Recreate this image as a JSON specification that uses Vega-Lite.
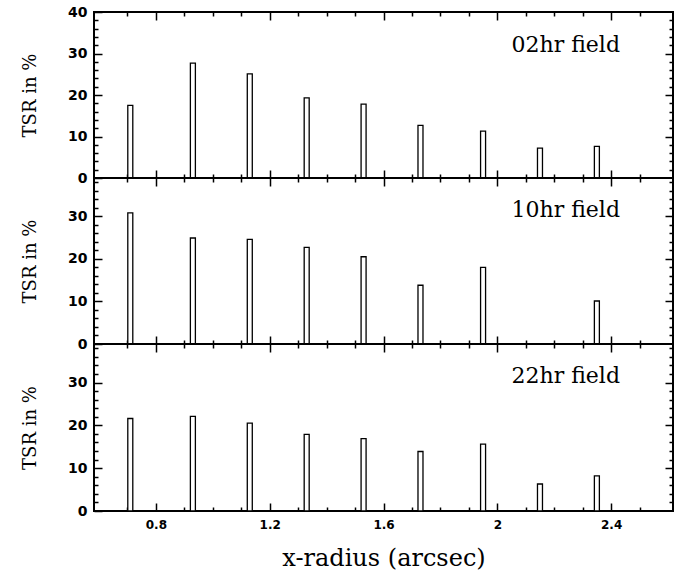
{
  "$schema": "https://vega.github.io/schema/vega-lite/v6.json",
  "background": "white",
  "padding": {"left": 20, "top": 4, "right": 0, "bottom": 5},
  "datasets": {
    "d02": [
      {"r": 0.71, "tsr": 17.5}, {"r": 0.93, "tsr": 27.7}, {"r": 1.13, "tsr": 25.1},
      {"r": 1.33, "tsr": 19.3}, {"r": 1.53, "tsr": 17.8}, {"r": 1.73, "tsr": 12.7},
      {"r": 1.95, "tsr": 11.3}, {"r": 2.15, "tsr": 7.2}, {"r": 2.35, "tsr": 7.6}
    ],
    "d10": [
      {"r": 0.71, "tsr": 30.8}, {"r": 0.93, "tsr": 24.9}, {"r": 1.13, "tsr": 24.6},
      {"r": 1.33, "tsr": 22.7}, {"r": 1.53, "tsr": 20.5}, {"r": 1.73, "tsr": 13.8},
      {"r": 1.95, "tsr": 18.0}, {"r": 2.35, "tsr": 10.1}
    ],
    "d22": [
      {"r": 0.71, "tsr": 21.6}, {"r": 0.93, "tsr": 22.1}, {"r": 1.13, "tsr": 20.5},
      {"r": 1.33, "tsr": 17.9}, {"r": 1.53, "tsr": 16.9}, {"r": 1.73, "tsr": 13.9},
      {"r": 1.95, "tsr": 15.6}, {"r": 2.15, "tsr": 6.3}, {"r": 2.35, "tsr": 8.2}
    ]
  },
  "spacing": 0,
  "bounds": "flush",
  "config": {
    "view": {"stroke": "black", "strokeWidth": 2},
    "axis": {
      "domain": false, "grid": false, "tickColor": "black", "tickWidth": 1.5,
      "labelFont": "DejaVu Sans", "labelFontWeight": "bold", "labelColor": "black",
      "titleFont": "DejaVu Serif", "titleFontWeight": "normal", "titleColor": "black",
      "labelOverlap": false, "labelFlush": false
    }
  },
  "vconcat": [
    {
      "width": 579, "height": 166,
      "data": {"name": "d02"},
      "title": {"text": "02hr field", "anchor": "end", "orient": "top", "frame": "group", "baseline": "alphabetic", "offset": -69, "dx": -53, "font": "DejaVu Serif", "fontSize": 22, "fontWeight": "normal", "color": "black"},
      "layer": [
        {
          "mark": {"type": "bar", "orient": "vertical", "width": 5, "fill": "white", "stroke": "black", "strokeWidth": 1.3},
          "encoding": {
            "x": {"field": "r", "type": "quantitative", "scale": {"domain": [0.6, 2.6], "nice": false, "zero": false},
              "axis": {"orient": "bottom", "values": [0.7,0.8,0.9,1.0,1.1,1.2,1.3,1.4,1.5,1.6,1.7,1.8,1.9,2.0,2.1,2.2,2.3,2.4,2.5], "labels": false, "title": null,
                "tickSize": {"condition": {"test": "round(datum.value*10) % 4 == 0", "value": -8}, "value": -4}}},
            "y": {"field": "tsr", "type": "quantitative", "scale": {"domain": [0, 40], "nice": false},
              "axis": {"orient": "left", "values": [0,2,4,6,8,10,12,14,16,18,20,22,24,26,28,30,32,34,36,38,40], "title": "TSR in %", "titleFontSize": 18, "titlePadding": 28,
                "labelFontSize": 14, "labelPadding": 15, "labelExpr": "datum.value % 10 == 0 ? '' + datum.value : ''",
                "tickSize": {"condition": {"test": "datum.value % 10 == 0", "value": -8}, "value": -4}}}
          }
        },
        {
          "mark": {"type": "bar", "orient": "vertical", "width": 5, "opacity": 0},
          "encoding": {
            "x": {"field": "r", "type": "quantitative", "scale": {"domain": [0.6, 2.6], "nice": false, "zero": false},
              "axis": {"orient": "top", "values": [0.7,0.8,0.9,1.0,1.1,1.2,1.3,1.4,1.5,1.6,1.7,1.8,1.9,2.0,2.1,2.2,2.3,2.4,2.5], "labels": false, "title": null,
                "tickSize": {"condition": {"test": "round(datum.value*10) % 4 == 0", "value": -8}, "value": -4}}},
            "y": {"field": "tsr", "type": "quantitative", "scale": {"domain": [0, 40], "nice": false},
              "axis": {"orient": "right", "values": [2,4,6,8,10,12,14,16,18,20,22,24,26,28,30,32,34,36,38], "labels": false, "title": null,
                "tickSize": {"condition": {"test": "datum.value % 10 == 0", "value": -8}, "value": -4}}}
          }
        }
      ],
      "resolve": {"axis": {"x": "independent", "y": "independent"}}
    },
    {
      "width": 579, "height": 166,
      "data": {"name": "d10"},
      "title": {"text": "10hr field", "anchor": "end", "orient": "top", "frame": "group", "baseline": "alphabetic", "offset": -64, "dx": -53, "font": "DejaVu Serif", "fontSize": 22, "fontWeight": "normal", "color": "black"},
      "layer": [
        {
          "mark": {"type": "bar", "orient": "vertical", "width": 5, "fill": "white", "stroke": "black", "strokeWidth": 1.3},
          "encoding": {
            "x": {"field": "r", "type": "quantitative", "scale": {"domain": [0.6, 2.6], "nice": false, "zero": false},
              "axis": {"orient": "bottom", "values": [0.7,0.8,0.9,1.0,1.1,1.2,1.3,1.4,1.5,1.6,1.7,1.8,1.9,2.0,2.1,2.2,2.3,2.4,2.5], "labels": false, "title": null,
                "tickSize": {"condition": {"test": "round(datum.value*10) % 4 == 0", "value": -8}, "value": -4}}},
            "y": {"field": "tsr", "type": "quantitative", "scale": {"domain": [0, 39], "nice": false},
              "axis": {"orient": "left", "values": [0,2,4,6,8,10,12,14,16,18,20,22,24,26,28,30,32,34,36,38], "title": "TSR in %", "titleFontSize": 18, "titlePadding": 28,
                "labelFontSize": 14, "labelPadding": 15, "labelExpr": "datum.value % 10 == 0 ? '' + datum.value : ''",
                "tickSize": {"condition": {"test": "datum.value % 10 == 0", "value": -8}, "value": -4}}}
          }
        },
        {
          "mark": {"type": "bar", "orient": "vertical", "width": 5, "opacity": 0},
          "encoding": {
            "x": {"field": "r", "type": "quantitative", "scale": {"domain": [0.6, 2.6], "nice": false, "zero": false},
              "axis": {"orient": "top", "values": [0.7,0.8,0.9,1.0,1.1,1.2,1.3,1.4,1.5,1.6,1.7,1.8,1.9,2.0,2.1,2.2,2.3,2.4,2.5], "labels": false, "title": null,
                "tickSize": {"condition": {"test": "round(datum.value*10) % 4 == 0", "value": -8}, "value": -4}}},
            "y": {"field": "tsr", "type": "quantitative", "scale": {"domain": [0, 39], "nice": false},
              "axis": {"orient": "right", "values": [2,4,6,8,10,12,14,16,18,20,22,24,26,28,30,32,34,36,38], "labels": false, "title": null,
                "tickSize": {"condition": {"test": "datum.value % 10 == 0", "value": -8}, "value": -4}}}
          }
        }
      ],
      "resolve": {"axis": {"x": "independent", "y": "independent"}}
    },
    {
      "width": 579, "height": 167,
      "data": {"name": "d22"},
      "title": {"text": "22hr field", "anchor": "end", "orient": "top", "frame": "group", "baseline": "alphabetic", "offset": -64, "dx": -53, "font": "DejaVu Serif", "fontSize": 22, "fontWeight": "normal", "color": "black"},
      "layer": [
        {
          "mark": {"type": "bar", "orient": "vertical", "width": 5, "fill": "white", "stroke": "black", "strokeWidth": 1.3},
          "encoding": {
            "x": {"field": "r", "type": "quantitative", "scale": {"domain": [0.6, 2.6], "nice": false, "zero": false},
              "axis": {"orient": "bottom", "values": [0.7,0.8,0.9,1.0,1.1,1.2,1.3,1.4,1.5,1.6,1.7,1.8,1.9,2.0,2.1,2.2,2.3,2.4,2.5],
                "title": "x-radius (arcsec)", "titleFontSize": 24, "titlePadding": 12,
                "labelFontSize": 12, "labelPadding": 16, "labelExpr": "round(datum.value*10) % 4 == 0 ? '' + datum.value : ''",
                "tickSize": {"condition": {"test": "round(datum.value*10) % 4 == 0", "value": -8}, "value": -4}}},
            "y": {"field": "tsr", "type": "quantitative", "scale": {"domain": [0, 39], "nice": false},
              "axis": {"orient": "left", "values": [0,2,4,6,8,10,12,14,16,18,20,22,24,26,28,30,32,34,36,38], "title": "TSR in %", "titleFontSize": 18, "titlePadding": 28,
                "labelFontSize": 14, "labelPadding": 15, "labelExpr": "datum.value % 10 == 0 ? '' + datum.value : ''",
                "tickSize": {"condition": {"test": "datum.value % 10 == 0", "value": -8}, "value": -4}}}
          }
        },
        {
          "mark": {"type": "bar", "orient": "vertical", "width": 5, "opacity": 0},
          "encoding": {
            "x": {"field": "r", "type": "quantitative", "scale": {"domain": [0.6, 2.6], "nice": false, "zero": false},
              "axis": {"orient": "top", "values": [0.7,0.8,0.9,1.0,1.1,1.2,1.3,1.4,1.5,1.6,1.7,1.8,1.9,2.0,2.1,2.2,2.3,2.4,2.5], "labels": false, "title": null,
                "tickSize": {"condition": {"test": "round(datum.value*10) % 4 == 0", "value": -8}, "value": -4}}},
            "y": {"field": "tsr", "type": "quantitative", "scale": {"domain": [0, 39], "nice": false},
              "axis": {"orient": "right", "values": [2,4,6,8,10,12,14,16,18,20,22,24,26,28,30,32,34,36,38], "labels": false, "title": null,
                "tickSize": {"condition": {"test": "datum.value % 10 == 0", "value": -8}, "value": -4}}}
          }
        }
      ],
      "resolve": {"axis": {"x": "independent", "y": "independent"}}
    }
  ]
}
